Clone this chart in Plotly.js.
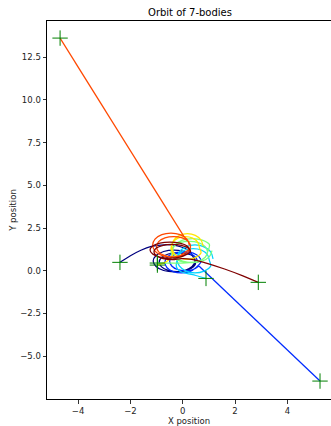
<!DOCTYPE html>
<html>
<head>
<meta charset="utf-8">
<script src="https://cdn.plot.ly/plotly-3.0.1.min.js"></script>
<style>html,body{margin:0;padding:0;background:#fff;}#chart{width:331px;height:426px;}</style>
</head>
<body>
<div id="chart"></div>
<script>
// Body colours (jet colormap, 7 bodies)
const bodyNames = ['Body 1','Body 2','Body 3','Body 4','Body 5','Body 6','Body 7'];
const bodyColors = ['#00007f','#002bff','#00d4ff','#7bff7b','#ffe600','#ff4800','#7f0000'];

// Trajectories
const navyX = [-2.40,-2.00,-1.60,-1.20,-0.70,-0.20,0.25,
  0.41,0.50,0.41,0.15,-0.20,-0.55,-0.81,-0.90,-0.81,-0.55,-0.20,0.15,
  0.36,0.47,0.36,0.07,-0.33,-0.73,-1.02,-1.13,-1.02,-0.73,-0.33,0.07];
const navyY = [0.49,0.88,1.20,1.42,1.52,1.45,1.15,
  0.775,0.50,0.225,0.02,-0.05,0.02,0.225,0.50,0.775,0.98,1.05,0.98,
  0.89,0.57,0.25,0.015,-0.07,0.015,0.25,0.57,0.89,1.125,1.21,1.125];

const blueX = [0.58,0.50,0.265,-0.05,-0.365,-0.60,-0.68,-0.60,-0.365,-0.05,0.265,0.50,
  0.70,0.62,0.40,0.10,-0.20,-0.42,-0.50,-0.42,-0.20,0.10,0.40,0.62];
const blueY = [0.48,0.785,1.01,1.09,1.01,0.785,0.48,0.175,-0.05,-0.13,-0.05,0.175,
  0.55,0.825,1.03,1.10,1.03,0.825,0.55,0.275,0.07,0.00,0.07,0.275];
const blueTailX = [0.62,5.25];
const blueTailY = [0.275,-6.46];

const cyanX = [1.16,1.07,0.815,0.47,0.125,-0.13,-0.22,-0.13,0.125,0.47,0.815,1.07,
  1.02,0.94,0.71,0.40,0.09,-0.14,-0.22,-0.24,-0.10,0.15,0.50,0.89];
const cyanY = [0.69,1.10,1.40,1.51,1.40,1.10,0.69,0.28,-0.02,-0.13,-0.02,0.28,
  0.60,0.95,1.21,1.30,1.21,0.95,0.60,0.22,-0.03,-0.15,-0.28,-0.45];

const greenX = [1.12,1.02,0.745,0.37,-0.005,-0.28,-0.38,-0.28,-0.005,0.37,0.745,1.02,
  0.95,0.86,0.60,0.25,-0.10,-0.36,-0.45,-0.36,-0.10,0.25,0.60,0.86,0.95,0.86,0.60,0.25,-0.35,-0.97];
const greenY = [1.18,0.83,0.57,0.48,0.57,0.83,1.18,1.53,1.79,1.88,1.79,1.53,
  1.10,0.79,0.56,0.48,0.56,0.79,1.10,1.41,1.64,1.72,1.64,1.41,1.10,0.79,0.56,0.48,0.44,0.45];

const yellowX = [0.78,0.70,0.48,0.18,-0.12,-0.34,-0.42,-0.34,-0.12,0.18,0.48,0.70,
  0.65,0.58,0.38,0.10,-0.18,-0.38,-0.45,-0.38,-0.60,-0.97];
const yellowY = [1.42,1.80,2.07,2.17,2.07,1.80,1.42,1.05,0.77,0.67,0.77,1.05,
  1.30,1.65,1.91,2.00,1.91,1.65,1.30,0.95,0.55,0.33];

const orangeX = [0.25,0.16,-0.10,-0.45,-0.80,-1.06,-1.15,-1.06,-0.80,-0.45,-0.10,0.16,
  0.30,0.22,-0.02,-0.35,-0.68,-0.92,-1.00,-0.92,-0.68,-0.35,-0.02,0.22,0.30,0.22,0.05];
const orangeY = [1.50,1.85,2.11,2.20,2.11,1.85,1.50,1.15,0.89,0.80,0.89,1.15,
  1.40,1.70,1.92,2.00,1.92,1.70,1.40,1.10,0.88,0.80,0.88,1.10,1.40,1.70,2.00];
const orangeTailX = [0.05,-4.69];
const orangeTailY = [2.00,13.62];

const redX = [0.27,0.17,-0.11,-0.49,-0.87,-1.15,-1.25,-1.15,-0.87,-0.49,-0.11,0.17,
  0.30,0.21,-0.05,-0.40,-0.75,-1.01,-1.10,-1.01,-0.75,-0.40,-0.05,0.35,0.90,1.60,2.30,2.89];
const redY = [1.21,1.445,1.62,1.68,1.62,1.445,1.21,0.975,0.80,0.74,0.80,0.975,
  1.10,1.325,1.49,1.55,1.49,1.325,1.10,0.875,0.71,0.65,0.71,0.67,0.45,0.10,-0.30,-0.68];

// Final positions (green crosses)
const finalX = [-2.40,5.25,0.89,-0.97,-0.97,-4.69,2.89];
const finalY = [0.49,-6.46,-0.45,0.45,0.33,13.62,-0.68];

const xTicks = [-4,-2,0,2,4];
const yTicks = [-5,-2.5,0,2.5,5,7.5,10,12.5];

const LW = 1.25;
function path(x, y, c, shape) {
  return {x: x, y: y, type: 'scatter', mode: 'lines', showlegend: false, hoverinfo: 'skip',
    line: {color: c, width: LW, shape: shape || 'spline', smoothing: 1}};
}
const traces = [
  path(navyX, navyY, bodyColors[0]),
  path(blueX, blueY, bodyColors[1]),
  path(blueTailX, blueTailY, bodyColors[1], 'linear'),
  path(cyanX, cyanY, bodyColors[2]),
  path(greenX, greenY, bodyColors[3]),
  path(yellowX, yellowY, bodyColors[4]),
  path(orangeX, orangeY, bodyColors[5]),
  path(orangeTailX, orangeTailY, bodyColors[5], 'linear'),
  path(redX, redY, bodyColors[6]),
  {x: finalX, y: finalY, type: 'scatter', mode: 'markers', showlegend: false,
   marker: {symbol: 'cross-thin', size: 11, color: '#008000', line: {color: '#008000', width: 1}}}
];

const fnt = 'DejaVu Sans, sans-serif';
const layout = {
  width: 331, height: 426,
  margin: {l: 47, r: 0, t: 21, b: 27},
  paper_bgcolor: '#fff', plot_bgcolor: '#fff',
  title: {text: 'Orbit of 7-bodies', font: {family: fnt, size: 10, color: '#000'},
          x: 0.574, xanchor: 'center', y: 1 - 12/426, yanchor: 'middle', yref: 'container'},
  xaxis: {range: [-5.19, 5.67], tickvals: xTicks, ticks: 'outside', ticklen: 3.5, tickwidth: 0.8,
          tickcolor: '#000', showline: true, mirror: true, linecolor: '#000', linewidth: 1,
          showgrid: false, zeroline: false, tickfont: {family: fnt, size: 8.5, color: '#222'},
          title: {text: 'X position', font: {family: fnt, size: 8.5, color: '#222'}, standoff: 3}},
  yaxis: {range: [-7.51, 14.62], tickvals: yTicks, tickformat: '.1f', ticks: 'outside', ticklen: 3.5, tickwidth: 0.8,
          tickcolor: '#000', showline: true, mirror: true, linecolor: '#000', linewidth: 1,
          showgrid: false, zeroline: false, tickfont: {family: fnt, size: 8.5, color: '#222'},
          title: {text: 'Y position', font: {family: fnt, size: 8.5, color: '#222'}, standoff: 2}}
};
Plotly.newPlot('chart', traces, layout, {displayModeBar: false, staticPlot: true});
</script>
</body>
</html>
